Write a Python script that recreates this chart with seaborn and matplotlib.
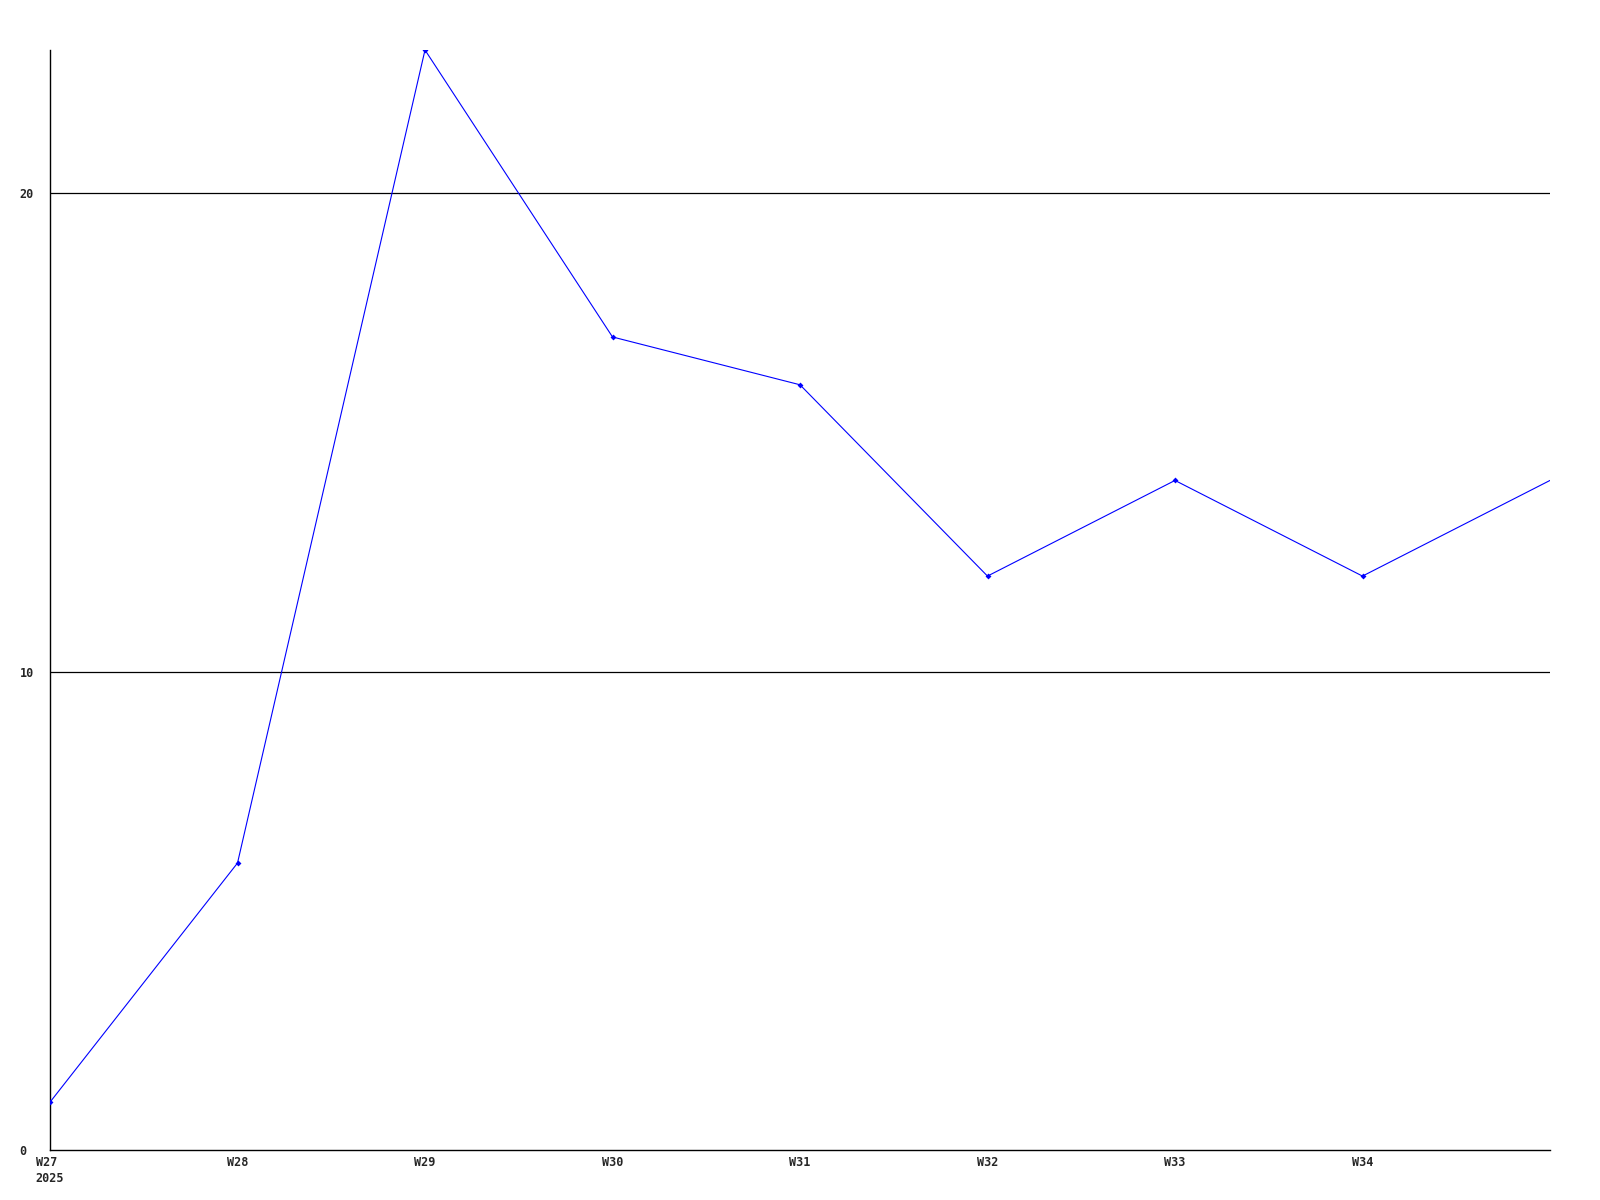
import pandas as pd
import matplotlib
matplotlib.use('Agg')
import matplotlib.pyplot as plt
import seaborn as sns

semanas = ['W27', 'W28', 'W29', 'W30', 'W31', 'W32', 'W33', 'W34', 'W35']
valores = [1, 6, 23, 17, 16, 12, 14, 12, 14]
rotulos_x = ['W27\n2025', 'W28', 'W29', 'W30', 'W31', 'W32', 'W33', 'W34']
rotulos_y = ['0', '10', '20']

df = pd.DataFrame({'pos': range(len(semanas)), 'semana': semanas, 'valor': valores})

sns.set_theme(style="white")
plt.rcParams['font.family'] = ['DejaVu Sans Mono', 'DejaVu Sans']

fig = plt.figure(figsize=(16, 12), dpi=100)
ax = fig.add_axes([50 / 1600, 50 / 1200, 1500 / 1600, 1100 / 1200])

ax.axhline(10, color='black', linewidth=0.9, zorder=1)
ax.axhline(20, color='black', linewidth=0.9, zorder=1)

# ultimo ponto (W35) fica na borda, sem marcador
sns.lineplot(data=df.iloc[:-1], x='pos', y='valor', color='#0000ff', linewidth=0.8,
             marker='D', markersize=3, markeredgewidth=0, ax=ax, zorder=3)
sns.lineplot(data=df.iloc[-2:], x='pos', y='valor', color='#0000ff', linewidth=0.8,
             ax=ax, zorder=3)

ax.set_xlim(0, 8)
ax.set_ylim(0, 23)
ax.set_xticks(range(len(rotulos_x)))
ax.set_xticklabels(rotulos_x, fontsize=8.5, fontweight='bold', multialignment='left',
                   linespacing=1.3)
ax.set_yticks([0, 10, 20])
ax.set_yticklabels(rotulos_y, fontsize=8.5, fontweight='bold', ha='left')
ax.tick_params(axis='x', length=0, pad=4)
ax.tick_params(axis='y', length=0, pad=22)
ax.set_xlabel('')
ax.set_ylabel('')

for lado in ['top', 'right']:
    ax.spines[lado].set_visible(False)
for lado in ['left', 'bottom']:
    ax.spines[lado].set_color('black')
    ax.spines[lado].set_linewidth(1)

ax.grid(False)

plt.savefig('out.png', dpi=100)
plt.close()
